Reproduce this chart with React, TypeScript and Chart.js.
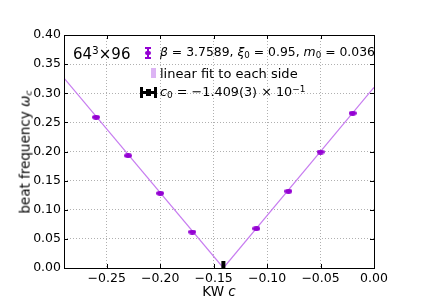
import React, { useEffect, useRef } from "react";
import { Chart, registerables } from "chart.js";

Chart.register(...registerables);

// ---- data ----
const kwLeft = [-0.26, -0.23, -0.2, -0.17];
const omegaLeft = [0.2587, 0.1928, 0.1282, 0.0618];
const kwRight = [-0.11, -0.08, -0.05, -0.02];
const omegaRight = [0.0675, 0.1317, 0.1991, 0.2656];
const c0 = -0.1409;
const c0MarkerHeight = 0.012;
const leftFitX = [-0.29, c0];
const leftFitY = [0.326, 0.0];
const rightFitX = [c0, 0.0];
const rightFitY = [0.0, 0.31];
const xTicks = [-0.25, -0.2, -0.15, -0.1, -0.05, 0.0];
const yTicks = [0.0, 0.05, 0.1, 0.15, 0.2, 0.25, 0.3, 0.35, 0.4];

const FONT = "'DejaVu Sans', sans-serif";
const POINT_COLOR = "#9400d3";
const FIT_COLOR = "#c77cf0";

function fmt(v: number): string {
  const s = Math.abs(v).toFixed(2);
  return v < -1e-9 ? "\u2212" + s : s;
}

function makeEllipse(): HTMLCanvasElement {
  const c = document.createElement("canvas");
  c.width = 8;
  c.height = 5;
  const ctx = c.getContext("2d")!;
  ctx.fillStyle = POINT_COLOR;
  ctx.beginPath();
  ctx.ellipse(4, 2.5, 3.9, 2.4, 0, 0, Math.PI * 2);
  ctx.fill();
  return c;
}

const framePlugin = {
  id: "frame",
  afterDraw(chart: any) {
    const { ctx, chartArea } = chart;
    const { left, right, top, bottom } = chartArea;
    const xs = chart.scales.x;
    const ys = chart.scales.y;
    ctx.save();
    ctx.strokeStyle = "#000";
    ctx.lineWidth = 1;
    ctx.beginPath();
    for (const v of xTicks) {
      const px = Math.round(xs.getPixelForValue(v)) + 0.5;
      ctx.moveTo(px, bottom);
      ctx.lineTo(px, bottom - 4);
      ctx.moveTo(px, top);
      ctx.lineTo(px, top + 4);
    }
    for (const v of yTicks) {
      const py = Math.round(ys.getPixelForValue(v)) + 0.5;
      ctx.moveTo(left, py);
      ctx.lineTo(left + 4, py);
      ctx.moveTo(right, py);
      ctx.lineTo(right - 4, py);
    }
    ctx.stroke();
    ctx.strokeRect(Math.round(left) + 0.5, Math.round(top) + 0.5, Math.round(right - left), Math.round(bottom - top));
    ctx.restore();
  },
};

export default function App() {
  const ref = useRef<HTMLCanvasElement>(null);

  useEffect(() => {
    const ellipse = makeEllipse();
    const pts = [
      ...kwLeft.map((x, i) => ({ x, y: omegaLeft[i] })),
      ...kwRight.map((x, i) => ({ x, y: omegaRight[i] })),
    ];
    const chart = new Chart(ref.current!, {
      type: "scatter",
      data: {
        datasets: [
          {
            data: pts,
            pointStyle: ellipse as any,
            pointRadius: 4,
            showLine: false,
          },
          {
            data: [
              { x: c0, y: 0 },
              { x: c0, y: c0MarkerHeight },
            ],
            showLine: true,
            borderColor: "#000",
            borderWidth: 4,
            pointRadius: 0,
          },
          {
            data: leftFitX.map((x, i) => ({ x, y: leftFitY[i] })),
            showLine: true,
            borderColor: FIT_COLOR,
            borderWidth: 1.2,
            pointRadius: 0,
          },
          {
            data: rightFitX.map((x, i) => ({ x, y: rightFitY[i] })),
            showLine: true,
            borderColor: FIT_COLOR,
            borderWidth: 1.2,
            pointRadius: 0,
          },
        ],
      },
      options: {
        responsive: false,
        animation: false,
        layout: { padding: { top: 35, right: 54, left: 0, bottom: 0 } },
        plugins: { legend: { display: false }, tooltip: { enabled: false } },
        scales: {
          x: {
            type: "linear",
            min: -0.29,
            max: 0,
            afterBuildTicks: (s: any) => {
              s.ticks = xTicks.map((v) => ({ value: v }));
            },
            afterFit: (s: any) => {
              s.height = 34;
            },
            grid: {
              color: "#b0b0b0",
              lineWidth: 1,
              drawTicks: false,
              tickLength: 0,
            },
            border: { display: false, dash: [1, 2] },
            ticks: {
              padding: 3,
              color: "#000",
              font: { family: FONT, size: 12.5 },
              callback: (v: any) => fmt(Number(v)),
              maxRotation: 0,
              autoSkip: false,
            },
          },
          y: {
            type: "linear",
            min: 0,
            max: 0.4,
            afterBuildTicks: (s: any) => {
              s.ticks = yTicks.map((v) => ({ value: v }));
            },
            afterFit: (s: any) => {
              s.width = 64;
            },
            grid: {
              color: "#b0b0b0",
              lineWidth: 1,
              drawTicks: false,
              tickLength: 0,
            },
            border: { display: false, dash: [1, 2] },
            ticks: {
              padding: 3,
              color: "#000",
              font: { family: FONT, size: 12.5 },
              callback: (v: any) => fmt(Number(v)),
              autoSkip: false,
            },
          },
        },
      },
      plugins: [framePlugin],
    });
    return () => chart.destroy();
  }, []);

  const text: React.CSSProperties = {
    position: "absolute",
    fontFamily: FONT,
    color: "#000",
    whiteSpace: "nowrap",
    lineHeight: 1,
  };
  const sub: React.CSSProperties = { fontSize: "0.7em", verticalAlign: "-0.25em", fontStyle: "normal" };

  return (
    <div style={{ position: "fixed", left: 0, top: 0, width: 428, height: 302, background: "#fff" }}>
      <canvas ref={ref} width={428} height={302} style={{ width: 428, height: 302, display: "block" }} />
      {/* y title */}
      <div
        style={{
          ...text,
          fontSize: 13.5,
          left: 25.5,
          top: 151.5,
          transform: "translate(-50%, -50%) rotate(-90deg)",
        }}
      >
        beat frequency <i>ω</i>
        <i style={{ fontSize: "0.7em", verticalAlign: "-0.25em" }}>c</i>
      </div>
      {/* x title */}
      <div style={{ ...text, fontSize: 13.5, left: 219, top: 292, transform: "translate(-50%, -50%)" }}>
        KW <i>c</i>
      </div>
      {/* lattice label */}
      <div style={{ ...text, fontSize: 15, left: 73, top: 54, transform: "translateY(-50%)" }}>
        64<sup style={{ fontSize: "0.7em", verticalAlign: "0.45em", lineHeight: 0 }}>3</sup>×96
      </div>
      {/* legend icons */}
      <div style={{ position: "absolute", left: 147, top: 47, width: 2, height: 12, background: POINT_COLOR }} />
      <div style={{ position: "absolute", left: 145, top: 47, width: 6, height: 2, background: POINT_COLOR }} />
      <div style={{ position: "absolute", left: 145, top: 57, width: 6, height: 2, background: POINT_COLOR }} />
      <div style={{ position: "absolute", left: 145, top: 51, width: 6, height: 4, borderRadius: 3, background: POINT_COLOR }} />
      <div style={{ position: "absolute", left: 151, top: 68, width: 5, height: 10, background: "#dcb4f4" }} />
      <div style={{ position: "absolute", left: 141, top: 91, width: 15, height: 3, background: "#000" }} />
      <div style={{ position: "absolute", left: 140, top: 87, width: 3, height: 11, background: "#000" }} />
      <div style={{ position: "absolute", left: 154, top: 87, width: 3, height: 11, background: "#000" }} />
      <div style={{ position: "absolute", left: 146, top: 89, width: 5, height: 7, background: "#000" }} />
      {/* legend texts */}
      <div style={{ ...text, fontSize: 12.4, left: 160, top: 53, transform: "translateY(-50%)" }}>
        <i>β</i> = 3.7589, <i>ξ</i>
        <span style={sub}>0</span> = 0.95, <i>m</i>
        <span style={sub}>0</span> = 0.036
      </div>
      <div style={{ ...text, fontSize: 13, left: 160, top: 73, transform: "translateY(-50%)" }}>
        linear fit to each side
      </div>
      <div style={{ ...text, fontSize: 12.8, left: 160, top: 93, transform: "translateY(-50%)" }}>
        <i>c</i>
        <span style={sub}>0</span> = −1.409(3) × 10
        <sup style={{ fontSize: "0.7em", verticalAlign: "0.45em", lineHeight: 0 }}>−1</sup>
      </div>
    </div>
  );
}
